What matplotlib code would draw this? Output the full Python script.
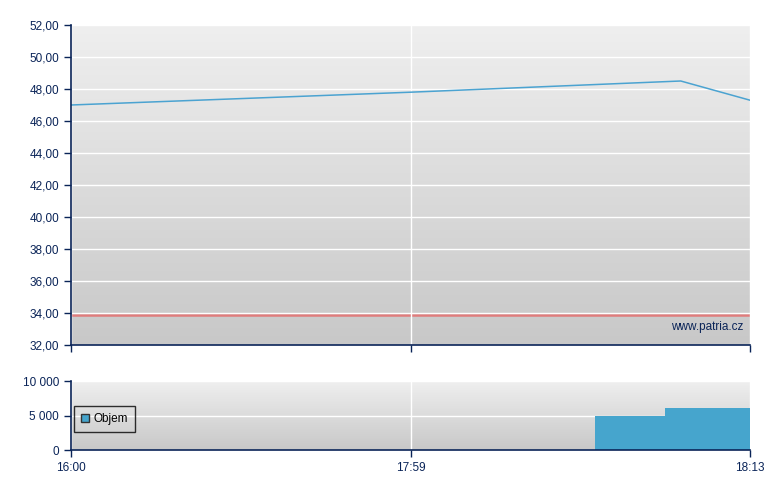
import numpy as np
import matplotlib
matplotlib.use("Agg")
import matplotlib.pyplot as plt
from matplotlib.ticker import FuncFormatter
from matplotlib.patches import Patch
from matplotlib.colors import LinearSegmentedColormap

plt.rcParams['font.family'] = ['Liberation Sans', 'DejaVu Sans']

# ---- data ----
tick_labels = ["16:00", "17:59", "18:13"]
tick_pos = [0.0, 0.5, 1.0]

price_x = [0.0, 0.5, 0.898, 1.0]
price_y = [47.0, 47.8, 48.5, 47.3]
ref_price = 33.86

vol_left = [0.7717, 0.8748]
vol_width = [0.1031, 0.1252]
vol_values = [4900, 6100]

navy = "#0a2458"
line_blue = "#4ba3d1"
bar_blue = "#46a5cd"

fig = plt.figure(figsize=(7.8, 4.9), dpi=100)
W, H = 780, 490
def rect(x0, y0, x1, y1):
    return [x0 / W, 1 - y1 / H, (x1 - x0) / W, (y1 - y0) / H]

ax = fig.add_axes(rect(71, 25, 750, 345))
axv = fig.add_axes(rect(71, 381, 750, 450))

grad = np.linspace(0, 1, 256).reshape(-1, 1)
cmap = LinearSegmentedColormap.from_list("g", ["#efefef", "#c8c8c8"])

for a in (ax, axv):
    a.imshow(grad, extent=[0, 1, 0, 1], transform=a.transAxes, cmap=cmap,
             aspect='auto', zorder=0, interpolation='bilinear')
    a.set_facecolor("none")
    for s in ("top", "right"):
        a.spines[s].set_visible(False)
    for s in ("left", "bottom"):
        a.spines[s].set_color(navy)
        a.spines[s].set_linewidth(1.2)
        a.spines[s].set_zorder(6)
    a.tick_params(colors=navy, labelcolor=navy, labelsize=8.5, length=5, width=1, direction='out')
    a.set_xlim(0, 1)
    a.set_xticks(tick_pos)
    a.grid(True, color="white", linewidth=1, zorder=1)
    a.set_axisbelow(False)
    for gl in a.get_xgridlines() + a.get_ygridlines():
        gl.set_zorder(1)

# main chart
ax.set_ylim(32, 52)
ax.set_yticks(np.arange(32, 52.1, 2))
ax.yaxis.set_major_formatter(FuncFormatter(lambda v, p: f"{v:.2f}".replace(".", ",")))
ax.set_xticklabels([])
ax.plot(price_x, price_y, color=line_blue, linewidth=1.1, zorder=3)
ax.axhline(ref_price, color="#e07c7c", linewidth=1.8, zorder=2)
ax.text(0.99, 0.055, "www.patria.cz", transform=ax.transAxes, ha='right', va='center',
        fontsize=8.5, color=navy, zorder=4)

# volume chart
axv.set_ylim(0, 10000)
axv.set_yticks([0, 5000, 10000])
axv.yaxis.set_major_formatter(FuncFormatter(lambda v, p: f"{int(v):,}".replace(",", " ")))
axv.set_xticklabels(tick_labels)
axv.bar(vol_left, vol_values, width=vol_width, align='edge', color=bar_blue,
        edgecolor='none', zorder=3)
leg = axv.legend(handles=[Patch(facecolor=bar_blue, edgecolor="#333333", label="Objem")],
                 loc='center left', bbox_to_anchor=(0.004, 0.45), frameon=True, fancybox=False,
                 fontsize=8.5, handlelength=0.7, handleheight=0.7, handletextpad=0.4,
                 borderpad=0.6, borderaxespad=0)
leg.get_frame().set_facecolor("none")
leg.get_frame().set_edgecolor("black")
leg.get_frame().set_linewidth(1)
leg.set_zorder(5)

fig.savefig("out.png", dpi=100)
